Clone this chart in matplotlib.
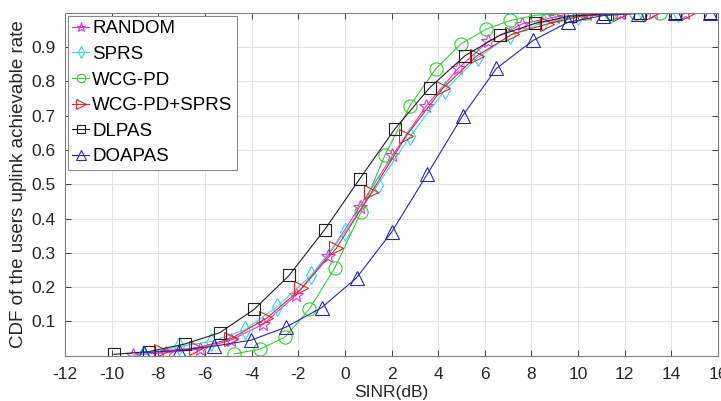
import matplotlib.pyplot as plt

plt.rcParams["font.family"] = ["Liberation Sans", "DejaVu Sans"]

# ==== DATA ====
random_x = [-9.08, -7.65, -6.22, -4.86, -3.5, -2.1, -0.72, 0.64, 2.04, 3.47, 4.86, 6.15, 7.58, 9.0, 10.36, 11.8, 13.2, 14.6]
random_y = [0.002, 0.009, 0.019, 0.046, 0.092, 0.176, 0.292, 0.435, 0.584, 0.727, 0.838, 0.917, 0.967, 0.988, 0.996, 0.999, 1.0, 1.0]

sprs_x = [-8.65, -7.1, -5.75, -4.3, -2.9, -1.45, 0.0, 1.4, 2.8, 4.3, 5.7, 7.1, 8.5, 10.0, 11.4, 12.8, 14.3]
sprs_y = [0.003, 0.027, 0.041, 0.075, 0.143, 0.234, 0.36, 0.497, 0.64, 0.775, 0.87, 0.935, 0.972, 0.99, 0.997, 1.0, 1.0]

wcg_x = [-4.75, -3.64, -2.57, -1.53, -0.43, 0.69, 1.72, 2.79, 3.89, 4.97, 6.05, 7.1, 8.18, 9.25, 10.32, 11.39, 12.46, 13.53]
wcg_y = [0.005, 0.019, 0.054, 0.135, 0.256, 0.418, 0.585, 0.729, 0.836, 0.909, 0.952, 0.978, 0.993, 0.997, 0.999, 1.0, 1.0, 1.0]

wcgsprs_x = [-7.86, -6.36, -4.86, -3.36, -1.86, -0.36, 1.14, 2.64, 4.2, 5.65, 7.15, 8.65, 10.1, 11.8, 13.15, 14.7]
wcgsprs_y = [0.014, 0.022, 0.05, 0.109, 0.196, 0.314, 0.476, 0.642, 0.78, 0.874, 0.937, 0.967, 0.99, 0.997, 1.0, 1.0]

dlpas_x = [-9.9, -8.39, -6.86, -5.36, -3.89, -2.39, -0.86, 0.64, 2.14, 3.64, 5.15, 6.65, 8.15, 9.65, 11.15, 12.65, 14.15, 15.65]
dlpas_y = [0.004, 0.012, 0.034, 0.067, 0.135, 0.234, 0.368, 0.516, 0.661, 0.782, 0.875, 0.935, 0.969, 0.99, 0.997, 1.0, 1.0, 1.0]

doapas_x = [-8.6, -7.1, -5.6, -4.03, -2.53, -1.0, 0.5, 2.0, 3.53, 5.05, 6.5, 8.08, 9.58, 11.08, 12.58, 14.15, 15.65]
doapas_y = [0.009, 0.015, 0.028, 0.045, 0.083, 0.14, 0.227, 0.36, 0.529, 0.70, 0.838, 0.92, 0.973, 0.992, 0.998, 1.0, 1.0]

x_ticks = list(range(-12, 17, 2))
y_ticks = [0.1, 0.2, 0.3, 0.4, 0.5, 0.6, 0.7, 0.8, 0.9]
# ==============


def main():
    fig = plt.figure(figsize=(7.21, 4.01), dpi=100)
    ax = fig.add_axes([0.090, 0.113, 0.906, 0.855])

    # (x, y, marcador, tamanho, cor, rótulo)
    series = [
        (random_x, random_y, "*", 10, "#e030e0", "RANDOM"),
        (sprs_x, sprs_y, "d", 9, "#30d8e8", "SPRS"),
        (wcg_x, wcg_y, "o", 9.5, "#30d030", "WCG-PD"),
        (wcgsprs_x, wcgsprs_y, ">", 10, "#e02828", "WCG-PD+SPRS"),
        (dlpas_x, dlpas_y, "s", 8.5, "#202020", "DLPAS"),
        (doapas_x, doapas_y, "^", 10, "#2828a8", "DOAPAS"),
    ]
    for xs, ys, mk, ms, col, lab in series:
        ax.plot(xs, ys, marker=mk, color=col, markerfacecolor="none",
                markersize=ms, linewidth=0.8, markeredgewidth=0.8, label=lab)

    ax.set_xlim(-12, 16)
    ax.set_ylim(0, 1)
    ax.set_xticks(x_ticks)
    ax.set_xticklabels([str(t) for t in x_ticks])
    ax.set_yticks(y_ticks)
    ax.set_yticklabels([f"{t:.1f}" for t in y_ticks])

    ax.tick_params(direction="in", top=True, right=True, labelsize=12.5,
                   colors="#262626", length=4, width=0.6, pad=7)
    ax.tick_params(axis="x", pad=8)
    for sp in ax.spines.values():
        sp.set_color("#808080")
        sp.set_linewidth(0.8)

    ax.grid(True, color="#e3e3e3", linewidth=0.7)
    ax.set_axisbelow(True)

    ax.set_xlabel("SINR(dB)", fontsize=12.5, color="#262626", labelpad=2)
    ax.set_ylabel("CDF of the users uplink achievable rate", fontsize=13.5,
                  color="#262626", labelpad=3)

    leg = ax.legend(loc="upper left", fontsize=13.5, handlelength=0.9,
                    handletextpad=0.15, borderpad=0.25, labelspacing=0.45,
                    borderaxespad=0.15, fancybox=False, framealpha=1,
                    markerscale=0.65)
    leg.get_frame().set_edgecolor("#8a8a8a")
    leg.get_frame().set_linewidth(0.8)

    fig.savefig("out.png", dpi=100)


if __name__ == "__main__":
    main()
